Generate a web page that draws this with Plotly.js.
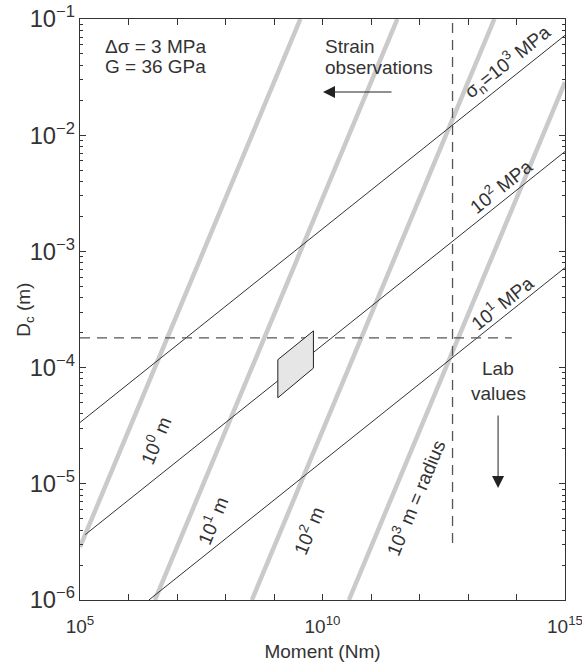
<!DOCTYPE html>
<html><head><meta charset="utf-8">
<script src="https://cdn.plot.ly/plotly-3.0.1.min.js"></script>
<style>html,body{margin:0;padding:0;background:#fff;}#chart{width:582px;height:662px;}</style>
</head><body><div id="chart"></div>
<script>
// Constant-radius lines (gray): endpoints
const radiusNames = ['1 m', '10 m', '100 m', '1000 m'];
const radiusM  = [[1e5, 3.5e9], [3.5e6, 3.5e11], [3.5e8, 3.5e13], [3.5e10, 1e15]];
const radiusDc = [[2.86e-6, 1e-1], [1e-6, 1e-1], [1e-6, 1e-1], [1e-6, 2.86e-2]];
// Constant normal-stress lines (thin)
const stressNames = ['1000 MPa', '100 MPa', '10 MPa'];
const stressM  = [[1e5, 1e15], [1.28e5, 1e15], [2.63e6, 1e15]];
const stressDc = [[3.37e-5, 7.24e-2], [3.65e-6, 7.24e-3], [1e-6, 7.24e-4]];
// Lab-value box
const labM  = [1.2e9, 6.5e9, 6.5e9, 1.2e9, 1.2e9];
const labDc = [1.17e-4, 2.07e-4, 9.9e-5, 5.5e-5, 1.17e-4];
// Dashed limits
const strainMomentM = [4.8e12, 4.8e12];
const strainMomentDc = [3.1e-6, 1e-1];
const labLimitM = [1e5, 8e13];
const labLimitDc = [1.8e-4, 1.8e-4];
// Tick labels
const xTickVals = [1e5,1e6,1e7,1e8,1e9,1e10,1e11,1e12,1e13,1e14,1e15];
const xTickText = ['10<sup>5</sup>','','','','','10<sup>10</sup>','','','','','10<sup>15</sup>'];

const FONT = 'Liberation Sans, Arial, Helvetica, sans-serif';
const TXT = '#333';
const traces = [];
radiusM.forEach((m, i) => traces.push({x: m, y: radiusDc[i], mode: 'lines', name: radiusNames[i],
  line: {color: '#cacaca', width: 4.5}, hoverinfo: 'skip'}));
stressM.forEach((m, i) => traces.push({x: m, y: stressDc[i], mode: 'lines', name: stressNames[i],
  line: {color: '#333', width: 1}, hoverinfo: 'skip'}));
traces.push({x: strainMomentM, y: strainMomentDc, mode: 'lines', line: {color: '#555', width: 1.3, dash: '10px,7px'}});
traces.push({x: labLimitM, y: labLimitDc, mode: 'lines', line: {color: '#555', width: 1.3, dash: '10px,7px'}});
traces.push({x: labM, y: labDc, mode: 'lines', fill: 'toself', fillcolor: '#e6e6e6', line: {color: '#222', width: 1}});

function ann(text, x, y, angle, xa) {
  return {text: text, xref: 'paper', yref: 'paper', x: x, y: y, showarrow: false, textangle: angle || 0,
    xanchor: xa || 'center', yanchor: 'middle', font: {family: FONT, size: 19, color: TXT}};
}
const annotations = [
  ann('Δσ = 3 MPa', 0.047, 0.9535, 0, 'left'),
  ann('G = 36 GPa', 0.047, 0.919, 0, 'left'),
  ann('Strain', 0.501, 0.952, 0, 'left'),
  ann('observations', 0.501, 0.917, 0, 'left'),
  ann('Lab', 0.862, 0.399),
  ann('values', 0.862, 0.356),
  ann('σ<sub>n</sub>=10<sup>3</sup> MPa', 0.8825, 0.926, -38.6),
  ann('10<sup>2</sup> MPa', 0.866, 0.7126, -38.6),
  ann('10<sup>1</sup> MPa', 0.870, 0.5129, -38.6),
  ann('10<sup>0</sup> m', 0.1546, 0.2754, -67.4),
  ann('10<sup>1</sup> m', 0.2722, 0.1377, -67.4),
  ann('10<sup>2</sup> m', 0.4701, 0.1205, -67.4),
  ann('10<sup>3</sup> m = radius', 0.6907, 0.1773, -67.4),
  {text: 'D<sub>c</sub> (m)', xref: 'paper', yref: 'paper', x: -0.115, y: 0.5, showarrow: false, textangle: -90,
   xanchor: 'center', yanchor: 'middle', font: {family: FONT, size: 19, color: TXT}},
  {text: '', xref: 'paper', yref: 'paper', x: 0.501, y: (600-92)/581, ax: 70, ay: 0, showarrow: true,
   arrowhead: 2, arrowsize: 2.4, arrowwidth: 1, arrowcolor: '#222'},
  {text: '', xref: 'paper', yref: 'paper', x: 0.862, y: (600-488)/581, ax: 0, ay: -74, showarrow: true,
   arrowhead: 2, arrowsize: 2.4, arrowwidth: 1, arrowcolor: '#222'}
];

const layout = {
  width: 582, height: 662, showlegend: false,
  margin: {l: 80, r: 17, t: 19, b: 62},
  paper_bgcolor: '#fff', plot_bgcolor: '#fff',
  font: {family: FONT, size: 19, color: TXT},
  xaxis: {type: 'log', range: [5, 15.00001], tickmode: 'array', tickvals: xTickVals, ticktext: xTickText,
    ticklabeloverflow: 'allow', ticklabelstandoff: 9,
    ticks: 'inside', ticklen: 6, tickcolor: '#333', tickwidth: 1, showline: true, linecolor: '#333', linewidth: 1.2,
    mirror: 'allticks', showgrid: false, zeroline: false, tickfont: {size: 19, color: TXT},
    title: {text: 'Moment (Nm)', font: {size: 19, color: TXT}, standoff: 8}},
  yaxis: {type: 'log', range: [-6, -1], dtick: 1, exponentformat: 'power', showexponent: 'all',
    ticks: 'inside', ticklen: 6, tickcolor: '#333', tickwidth: 1, showline: true, linecolor: '#333', linewidth: 1.2,
    mirror: 'allticks', showgrid: false, zeroline: false, tickfont: {size: 19, color: TXT},
    minor: {ticks: 'inside', ticklen: 3, tickcolor: '#333', showgrid: false}},
  annotations: annotations
};
Plotly.newPlot('chart', traces, layout, {staticPlot: true, displayModeBar: false});
</script></body></html>
